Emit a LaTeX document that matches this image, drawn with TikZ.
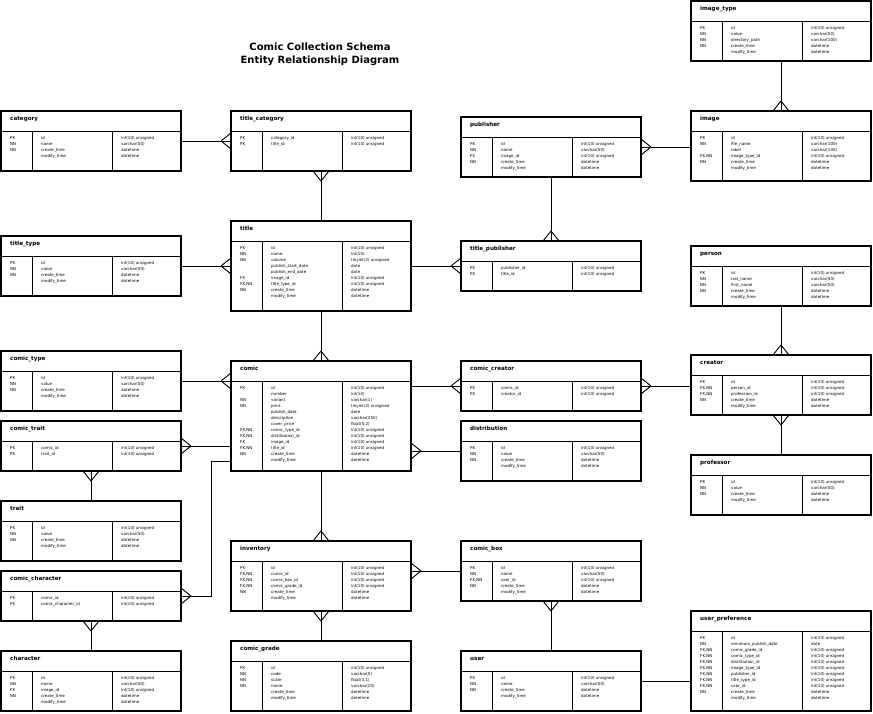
\documentclass[tikz,border=0pt]{standalone}
\usepackage{fontspec}
\setmainfont{DejaVu Sans}
\usetikzlibrary{calc}

\tikzset{
  tbl/.style={draw, line width=1.1pt, inner sep=0pt, outer sep=0pt, minimum width=180pt, anchor=north west},
  rule/.style={line width=0.9pt},
  tname/.style={anchor=base west, inner sep=0pt, font=\bfseries\fontsize{5.6}{6}\selectfont},
  cell/.style={anchor=base west, inner sep=0pt, font=\fontsize{4}{4.5}\selectfont},
  conn/.style={line width=0.9pt},
  heading/.style={inner sep=0pt, font=\bfseries\fontsize{10}{12}\selectfont},
}

% table: #1 node name, #2 left, #3 top, #4 height, #5 title, #6 rows key/field/type
\newcommand{\ertable}[6]{%
  \node[tbl, minimum height=#4pt] (#1) at (#2,#3) {};
  \draw[rule] (#2,#3+20) -- (#2+180,#3+20);
  \draw[rule] (#2+31,#3+20) -- (#2+31,#3+#4);
  \draw[rule] (#2+111,#3+20) -- (#2+111,#3+#4);
  \node[tname] at (#2+9,#3+9) {#5};
  \foreach \k/\f/\t [count=\i] in {#6} {
    \node[cell] at (#2+9,#3+28.6+6*\i-6) {\k};
    \node[cell] at (#2+40,#3+28.6+6*\i-6) {\f};
    \node[cell] at (#2+120,#3+28.6+6*\i-6) {\t};
  }
}

% crow's foot: #1 point on the table edge, #2 offset of the apex, #3 half spread
\newcommand{\crowfoot}[3]{%
  \draw[conn] ($(#1)+(#2)$) -- ($(#1)+(#3)$) ($(#1)+(#2)$) -- ($(#1)-(#3)$);}

\begin{document}
\begin{tikzpicture}[x=1pt,y=-1pt]
\useasboundingbox (0,0) rectangle (873,713);
\fill[white] (0,0) rectangle (873,713);

\node[heading] (h1) at (320,47) {Comic Collection Schema};
\node[heading] (h2) at (320,61) {Entity Relationship Diagram};

% column 1
\ertable{category}{1}{111}{60}{category}{PK/id/int(10) unsigned, NN/name/varchar(50), NN/create\_time/datetime, /modify\_time/datetime}
\ertable{titletype}{1}{236}{60}{title\_type}{PK/id/int(10) unsigned, NN/value/varchar(50), NN/create\_time/datetime, /modify\_time/datetime}
\ertable{comictype}{1}{351}{60}{comic\_type}{PK/id/int(10) unsigned, NN/value/varchar(50), NN/create\_time/datetime, /modify\_time/datetime}
\ertable{comictrait}{1}{421}{50}{comic\_trait}{PK/comic\_id/int(10) unsigned, PK/trait\_id/int(10) unsigned}
\ertable{trait}{1}{501}{60}{trait}{PK/id/int(10) unsigned, NN/value/varchar(50), NN/create\_time/datetime, /modify\_time/datetime}
\ertable{cchar}{1}{571}{50}{comic\_character}{PK/comic\_id/int(10) unsigned, PK/comic\_character\_id/int(10) unsigned}
\ertable{character}{1}{651}{60}{character}{PK/id/int(10) unsigned, NN/name/varchar(50), FK/image\_id/int(10) unsigned, NN/create\_time/datetime, /modify\_time/datetime}

% column 2
\ertable{titlecat}{231}{111}{60}{title\_category}{PK/category\_id/int(10) unsigned, PK/title\_id/int(10) unsigned}
\ertable{title}{231}{221}{90}{title}{PK/id/int(10) unsigned, NN/name/int(10), NN/volume/tinyint(2) unsigned, /publish\_start\_date/date, /publish\_end\_date/date, FK/image\_id/int(10) unsigned, {FK,NN}/title\_type\_id/int(10) unsigned, NN/create\_time/datetime, /modify\_time/datetime}
\ertable{comic}{231}{361}{110}{comic}{PK/id/int(10) unsigned, /number/int(10), NN/variant/varchar(1), NN/print/tinyint(2) unsigned, /publish\_date/date, /description/varchar(250), /cover\_price/{float(5,2)}, {FK,NN}/comic\_type\_id/int(10) unsigned, {FK,NN}/distribution\_id/int(10) unsigned, FK/image\_id/int(10) unsigned, {FK,NN}/title\_id/int(10) unsigned, NN/create\_time/datetime, /modify\_time/datetime}
\ertable{inventory}{231}{541}{70}{inventory}{PK/id/int(10) unsigned, {FK,NN}/comic\_id/int(10) unsigned, {FK,NN}/comic\_box\_id/int(10) unsigned, {FK,NN}/comic\_grade\_id/int(10) unsigned, NN/create\_time/datetime, /modify\_time/datetime}
\ertable{grade}{231}{641}{70}{comic\_grade}{PK/id/int(10) unsigned, NN/code/varchar(5), NN/scale/{float(3,1)}, NN/name/varchar(20), /create\_time/datetime, /modify\_time/datetime}

% column 3
\ertable{publisher}{461}{117}{60}{publisher}{PK/id/int(10) unsigned, NN/name/varchar(50), FK/image\_id/int(10) unsigned, NN/create\_time/datetime, /modify\_time/datetime}
\ertable{titlepub}{461}{241}{50}{title\_publisher}{PK/publisher\_id/int(10) unsigned, PK/title\_id/int(10) unsigned}
\ertable{ccreator}{461}{361}{50}{comic\_creator}{PK/comic\_id/int(10) unsigned, PK/creator\_id/int(10) unsigned}
\ertable{distribution}{461}{421}{60}{distribution}{PK/id/int(10) unsigned, NN/value/varchar(50), NN/create\_time/datetime, /modify\_time/datetime}
\ertable{cbox}{461}{541}{60}{comic\_box}{PK/id/int(10) unsigned, NN/name/varchar(50), {FK,NN}/user\_id/int(10) unsigned, NN/create\_time/datetime, /modify\_time/datetime}
\ertable{user}{461}{651}{60}{user}{PK/id/int(10) unsigned, NN/name/varchar(50), NN/create\_time/datetime, /modify\_time/datetime}

% column 4
\ertable{imgtype}{691}{1}{60}{image\_type}{PK/id/int(10) unsigned, NN/value/varchar(50), NN/directory\_path/varchar(100), NN/create\_time/datetime, /modify\_time/datetime}
\ertable{image}{691}{111}{70}{image}{PK/id/int(10) unsigned, NN/file\_name/varchar(100), /label/varchar(100), {FK,NN}/image\_type\_id/int(10) unsigned, NN/create\_time/datetime, /modify\_time/datetime}
\ertable{person}{691}{246}{60}{person}{PK/id/int(10) unsigned, NN/last\_name/varchar(50), NN/first\_name/varchar(50), NN/create\_time/datetime, /modify\_time/datetime}
\ertable{creator}{691}{355}{60}{creator}{PK/id/int(10) unsigned, {FK,NN}/person\_id/int(10) unsigned, {FK,NN}/profession\_id/int(10) unsigned, NN/create\_time/datetime, /modify\_time/datetime}
\ertable{profession}{691}{455}{60}{professor}{PK/id/int(10) unsigned, NN/value/varchar(50), NN/create\_time/datetime, /modify\_time/datetime}
\ertable{upref}{691}{611}{100}{user\_preference}{PK/id/int(10) unsigned, NN/minimum\_publish\_date/date, {FK,NN}/comic\_grade\_id/int(10) unsigned, {FK,NN}/comic\_type\_id/int(10) unsigned, {FK,NN}/distribution\_id/int(10) unsigned, {FK,NN}/image\_type\_id/int(10) unsigned, {FK,NN}/publisher\_id/int(10) unsigned, {FK,NN}/title\_type\_id/int(10) unsigned, {FK,NN}/user\_id/int(10) unsigned, NN/create\_time/datetime, /modify\_time/datetime}

% relationships
\draw[conn] (imgtype.south) -- (image.north);
\crowfoot{image.north}{0,-10}{8,0}

\draw[conn] (category.east) -- (titlecat.west);
\crowfoot{titlecat.west}{-10,0}{0,8}

\draw[conn] (titlecat.south) -- (title.north);
\crowfoot{titlecat.south}{0,10}{8,0}

\draw[conn] (titletype.east) -- (title.west);
\crowfoot{title.west}{-10,0}{0,8}

\draw[conn] (title.east) -- (titlepub.west);
\crowfoot{titlepub.west}{-10,0}{0,8}

\draw[conn] (publisher.south) -- (titlepub.north);
\crowfoot{titlepub.north}{0,-10}{8,0}

\coordinate (pubimg) at (publisher.east -| image.west);
\draw[conn] (publisher.east) -- (pubimg);
\crowfoot{publisher.east}{10,0}{0,8}

\coordinate (ctcomic) at (comictype.east -| comic.west);
\draw[conn] (comictype.east) -- (ctcomic);
\crowfoot{ctcomic}{-10,0}{0,8}

\draw[conn] (title.south) -- (comic.north);
\crowfoot{comic.north}{0,-10}{8,0}

\coordinate (trcomic) at (comictrait.east -| comic.west);
\draw[conn] (comictrait.east) -- (trcomic);
\crowfoot{comictrait.east}{10,0}{0,8}

\draw[conn] (comictrait.south) -- (trait.north);
\crowfoot{comictrait.south}{0,10}{8,0}

\coordinate (chcomic) at ($(comic.south west)+(0,-10)$);
\draw[conn] (cchar.east) -- ++(30,0) |- (chcomic);
\crowfoot{cchar.east}{10,0}{0,8}

\draw[conn] (cchar.south) -- (character.north);
\crowfoot{cchar.south}{0,10}{8,0}

\coordinate (comiccr) at (ccreator.west -| comic.east);
\draw[conn] (comiccr) -- (ccreator.west);
\crowfoot{ccreator.west}{-10,0}{0,8}

\coordinate (comicdist) at (distribution.west -| comic.east);
\draw[conn] (comicdist) -- (distribution.west);
\crowfoot{comicdist}{10,0}{0,8}

\coordinate (crcreator) at (ccreator.east -| creator.west);
\draw[conn] (ccreator.east) -- (crcreator);
\crowfoot{ccreator.east}{10,0}{0,8}

\draw[conn] (person.south) -- (creator.north);
\crowfoot{creator.north}{0,-10}{8,0}

\draw[conn] (creator.south) -- (profession.north);
\crowfoot{creator.south}{0,10}{8,0}

\draw[conn] (comic.south) -- (inventory.north);
\crowfoot{inventory.north}{0,-10}{8,0}

\draw[conn] (inventory.south) -- (grade.north);
\crowfoot{inventory.south}{0,10}{8,0}

\coordinate (invbox) at (cbox.west -| inventory.east);
\draw[conn] (invbox) -- (cbox.west);
\crowfoot{invbox}{10,0}{0,8}

\draw[conn] (cbox.south) -- (user.north);
\crowfoot{cbox.south}{0,10}{8,0}

\coordinate (userpref) at (user.east -| upref.west);
\draw[conn] (user.east) -- (userpref);
\end{tikzpicture}
\end{document}
